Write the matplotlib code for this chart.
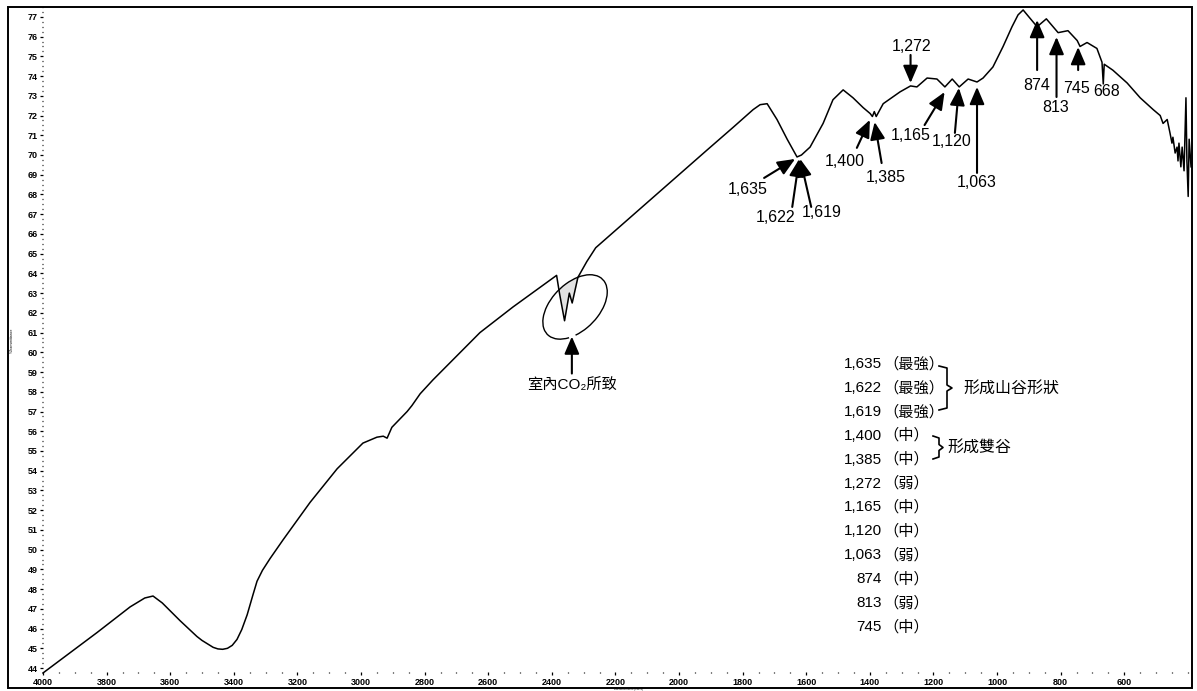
import matplotlib
matplotlib.use("Agg")
import matplotlib.pyplot as plt
import matplotlib.transforms as mtransforms
from matplotlib.patches import Arc, Ellipse, Rectangle
from matplotlib.lines import Line2D
from matplotlib.ticker import MultipleLocator, FixedLocator

plt.rcParams['font.family'] = ['Liberation Sans', 'Noto Sans CJK TC', 'DejaVu Sans']

# FTIR spectrum (wavenumber cm-1, %T)
wavenumber = [4000, 3830, 3726, 3680, 3654, 3625, 3569, 3516, 3500, 3480,
              3465, 3450, 3435, 3420, 3405, 3390, 3375, 3358, 3340, 3327,
              3310, 3286, 3245, 3160, 3075, 2994, 2950,
              2930, 2918, 2903, 2855, 2840, 2814, 2774, 2626, 2522, 2385,
              2376, 2360, 2345, 2336, 2318, 2290, 2262, 1912, 1830, 1767,
              1745, 1723, 1692, 1660, 1629, 1615, 1588, 1547, 1516, 1484, 1453,
              1421, 1399, 1392, 1386, 1380, 1358, 1305, 1272, 1252, 1220,
              1189, 1164, 1141, 1119, 1091, 1063, 1044, 1013, 981, 953,
              934, 918, 900, 874, 845, 808, 777, 748, 739, 717,
              686, 670, 666, 663, 636, 591, 550, 509, 487, 478,
              465, 456, 450, 447, 440, 434, 431, 428, 422, 418,
              412, 406, 403, 399, 396, 390]
transmittance = [43.75, 45.8, 47.1, 47.55, 47.65, 47.3, 46.4, 45.6, 45.4, 45.2,
                 45.05, 44.97, 44.95, 45.0, 45.15, 45.45, 45.95, 46.7, 47.7, 48.4,
                 48.95, 49.55, 50.5, 52.4, 54.1, 55.4, 55.7,
                 55.75, 55.65, 56.2, 57.0, 57.3, 57.9, 58.6, 61.0, 62.3, 63.9,
                 63.0, 61.6, 63.0, 62.5, 63.8, 64.6, 65.3, 70.25, 71.4, 72.3,
                 72.55, 72.6, 71.8, 70.8, 69.9, 70.0, 70.4, 71.6, 72.8, 73.3, 72.9,
                 72.4, 72.1, 71.95, 72.2, 71.95, 72.6, 73.2, 73.5, 73.45, 73.9,
                 73.85, 73.45, 73.85, 73.45, 73.85, 73.7, 73.9, 74.46, 75.5, 76.5,
                 77.1, 77.35, 77.0, 76.5, 76.9, 76.2, 76.3, 75.8, 75.5, 75.7,
                 75.4, 74.7, 73.6, 74.6, 74.3, 73.65, 72.9, 72.3, 72.0, 71.6,
                 71.8, 71.1, 70.6, 70.9, 70.1, 70.4, 69.7, 70.6, 69.4, 70.4,
                 69.2, 72.9, 69.7, 67.9, 70.8, 69.4]

# marked absorption bands: arrow tip height on the curve
peak_wn = [1635, 1622, 1619, 1400, 1385, 1272, 1165, 1120, 1063, 874, 813, 745]
peak_tip = [69.8, 69.8, 69.8, 71.78, 71.67, 73.65, 73.19, 73.4, 73.45, 76.84, 75.98, 75.47]
peak_text = ["1,635", "1,622", "1,619", "1,400", "1,385", "1,272",
             "1,165", "1,120", "1,063", "874", "813", "745"]
peak_strength = ["最強", "最強", "最強", "中", "中", "弱",
                 "中", "中", "弱", "中", "弱", "中"]

x_ticks = list(range(4000, 599, -200))
y_ticks = list(range(44, 78))

W, H = 1197, 691
fig = plt.figure(figsize=(W / 100, H / 100), dpi=100)
ax = fig.add_axes([43 / W, 1 - 672 / H, (1192 - 43) / W, (672 - 7) / H])
ax.set_xlim(4000, 387)
ax.set_ylim(43.8, 77.5)

ax.plot(wavenumber, transmittance, color='black', lw=1.1, clip_on=False)

for s in ax.spines.values():
    s.set_visible(False)
ax.xaxis.set_major_locator(FixedLocator(x_ticks))
ax.yaxis.set_major_locator(FixedLocator(y_ticks))
ax.xaxis.set_minor_locator(MultipleLocator(50))
ax.yaxis.set_minor_locator(MultipleLocator(0.25))
ax.tick_params(which='major', length=2.5, width=0.9, pad=1.5, labelsize=6.5)
ax.tick_params(which='minor', length=1.0, width=0.9)
for lab in ax.get_xticklabels() + ax.get_yticklabels():
    lab.set_fontweight('bold')

# outer frame
fig.add_artist(Rectangle((8 / W, 1 - 688 / H), (1192 - 8) / W, (688 - 7) / H,
                         transform=fig.transFigure, fill=False, lw=1.4, color='black'))
fig.text(12 / W, 1 - 340 / H, "%Transmittance", rotation=90, fontsize=2.5,
         ha='center', va='center')
fig.text(628 / W, 1 - 689 / H, "Wavenumbers (cm-1)", fontsize=2.2,
         ha='center', va='center')

# CO2 loop
loop_tr = mtransforms.ScaledTranslation(2327, 62.3, ax.transData)
clip_ell = Ellipse((0, 0), 78, 47, angle=45, transform=loop_tr)
co2_wn = [w for w in wavenumber if 2262 <= w <= 2400]
co2_t = [t for w, t in zip(wavenumber, transmittance) if 2262 <= w <= 2400]
fill = ax.fill_between(co2_wn, co2_t, 66, color='#e2e2e2', lw=0, zorder=1)
fill.set_clip_path(clip_ell)
ax.add_patch(Arc((0, 0), 78, 47, angle=45, theta1=226, theta2=574,
                 transform=loop_tr, lw=1.0, color='black', clip_on=False))
arrow_kw = dict(arrowstyle='-|>,head_length=0.7,head_width=0.3', color='black',
                lw=1.5, mutation_scale=15, shrinkA=0, shrinkB=0)
ax.annotate('', xy=(2337, 60.8), xytext=(0, -37), textcoords='offset pixels',
            arrowprops=arrow_kw)
ax.annotate('室內CO₂所致', xy=(2337, 60.8), xytext=(0, -48),
            textcoords='offset pixels', ha='center', va='center', fontsize=11)

# band arrows: (tail dx, dy), (label dx, dy) in pixels from the tip
tail_off = [(-31, -19), (-7, -48), (11, -48), (-13, -28), (7, -41), (0, 28),
            (-20, -33), (-4, -45), (0, -86), (0, -50), (0, -60), (0, -23)]
label_off = [(-47, -31), (-24, -59), (21, -54), (-25, -42), (11, -55), (1, 36),
             (-34, -43), (-7, -54), (0, -96), (0, -65), (-1, -71), (-2, -41)]
for wn, tip, txt, t_off, l_off in zip(peak_wn, peak_tip, peak_text, tail_off, label_off):
    ax.annotate('', xy=(wn, tip), xytext=t_off, textcoords='offset pixels',
                arrowprops=arrow_kw)
    ax.annotate(txt, xy=(wn, tip), xytext=l_off, textcoords='offset pixels',
                ha='center', va='center', fontsize=11.5)
ax.annotate('668', xy=(668, 73.6), xytext=(4, -8), textcoords='offset pixels',
            ha='center', va='center', fontsize=11.5)

# band list
for i, (txt, st) in enumerate(zip(peak_text, peak_strength)):
    y = 1 - (364 + i * 23.9) / H
    fig.text(882 / W, y, txt, ha='right', va='center', fontsize=11)
    fig.text(883 / W, y, '（' + st + '）', ha='left', va='center', fontsize=11)


def brace(x0, x1, x2, y0, y1):
    ym = (y0 + y1) / 2
    xs = [x0, x1, x1, x2, x1, x1, x0]
    ys = [y0, y0 + 2, ym - 3, ym, ym + 3, y1 - 2, y1]
    fig.add_artist(Line2D([x / W for x in xs], [1 - y / H for y in ys],
                          transform=fig.transFigure, color='black', lw=1.2))


brace(939, 947, 952, 366, 410)
fig.text(963 / W, 1 - 388 / H, '形成山谷形狀', ha='left', va='center', fontsize=11.5)
brace(933, 939, 943, 436, 459)
fig.text(947 / W, 1 - 447 / H, '形成雙谷', ha='left', va='center', fontsize=11.5)

fig.savefig('out.png', dpi=100)
